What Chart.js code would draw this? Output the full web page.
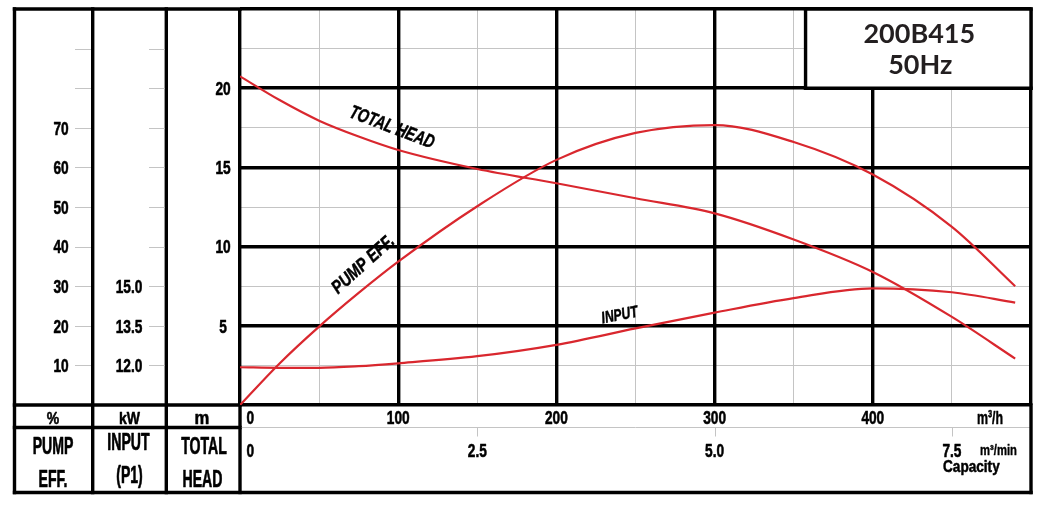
<!DOCTYPE html>
<html><head><meta charset="utf-8">
<script src="https://cdn.jsdelivr.net/npm/chart.js@4.4.1/dist/chart.umd.min.js"></script>
<style>html,body{margin:0;padding:0;background:#fff;overflow:hidden}canvas{display:block}</style>
</head><body>
<canvas id="c" width="1045" height="506"></canvas>
<script>
// ---- data ----
const flow      = [0, 25, 50, 75, 100, 150, 200, 250, 300, 350, 400, 450, 490];          // m3/h
const totalHead = [20.75, 19.25, 17.95, 16.95, 16.1, 14.9, 14.0, 13.05, 12.1, 10.45, 8.4, 5.56, 2.93]; // m
const pumpEff   = [0, 10.5, 19.8, 28.3, 36.2, 50.2, 61.9, 68.7, 70.7, 66.4, 58.2, 45, 30];  // %
const inputKW   = [11.93, 11.91, 11.91, 11.97, 12.08, 12.35, 12.78, 13.4, 14.0, 14.55, 14.92, 14.77, 14.38]; // kW
const flowTicks    = [0, 100, 200, 300, 400];          // m3/h
const flowMinTicks = [0, 2.5, 5.0, 7.5];               // m3/min
const effTicks  = [10, 20, 30, 40, 50, 60, 70];
const kwTicks   = ['12.0', '13.5', '15.0'];
const headTicks = [5, 10, 15, 20];
const sideTickLevels = [2.5, 5, 7.5, 10, 12.5, 15, 17.5, 20, 22.5];
const titleLines = ['200B415', '50Hz'];
const curveLabels = [ // text, flow, head
  ['TOTAL HEAD', 96, 17.5],
  ['PUMP EFF.', 78, 8.85],
  ['INPUT', 240, 5.65]
];

const RED = '#d9272e', GRID = '#c4c4c4', BW = 3.4;
const FAM = '"Liberation Sans", Arial, sans-serif';

function pts(ys){ return flow.map((q,i)=>({x:q, y:ys[i]})); }
function txt(c, s, x, y, o){
  c.save();
  c.translate(x, y);
  if (o.rot) c.rotate(o.rot*Math.PI/180);
  c.scale(o.sx || 1, 1);
  c.font = (o.italic ? 'italic ' : '') + 'bold ' + o.size + 'px ' + (o.family || FAM);
  c.fillStyle = o.color || '#000';
  c.textAlign = o.align || 'center';
  c.textBaseline = o.base || 'alphabetic';
  c.fillText(s, 0, 0);
  if (o.heavy) { c.strokeStyle = o.color || '#000'; c.lineWidth = o.heavy; c.lineJoin = 'round'; c.strokeText(s, 0, 0); }
  c.restore();
}
function ln(c, x1, y1, x2, y2, w, col){
  c.save(); c.strokeStyle = col; c.lineWidth = w; c.lineCap = 'square';
  c.beginPath(); c.moveTo(x1, y1); c.lineTo(x2, y2); c.stroke(); c.restore();
}

const frame = {
  id: 'frame',
  beforeDatasetsDraw(chart){
    const c = chart.ctx, a = chart.chartArea, s = chart.scales;
    const X = v => s.x.getPixelForValue(v), H = v => s.yHead.getPixelForValue(v);
    const E = v => s.yEff.getPixelForValue(v), K = v => s.yKW.getPixelForValue(v);
    // title box
    const bx = X(357.5), by = H(20);
    c.fillStyle = '#fff'; c.fillRect(bx, a.top, a.right - bx, by - a.top);
    ln(c, bx, a.top, bx, by, BW, '#000');
    ln(c, bx, a.top, a.right, a.top, BW, '#000');
    ln(c, a.right, a.top, a.right, by, BW, '#000');
    ln(c, bx, by, a.right, by, BW, '#000');
    txt(c, titleLines[0], (bx + a.right)/2 + 1, 43.3, {size: 27, family: 'Lato, "Open Sans", sans-serif', color: '#231f20'});
    txt(c, titleLines[1], (bx + a.right)/2 + 2, 74, {size: 27, family: 'Lato, "Open Sans", sans-serif', color: '#231f20'});

    // side table
    const L = 14.5, c1 = 92.7, c2 = 166.3, rowY = 427.5, bot = 492.5;
    ln(c, L, a.top, a.left, a.top, BW, '#000');
    ln(c, L, a.bottom, a.left, a.bottom, BW, '#000');
    ln(c, L, rowY, a.left, rowY, BW, '#000');
    ln(c, a.left, rowY, a.right, rowY, 1, GRID);
    ln(c, L, bot, a.right, bot, BW, '#000');
    [L, c1, c2].forEach(x => ln(c, x, a.top, x, bot, BW, '#000'));
    ln(c, a.left, a.bottom, a.left, bot, BW, '#000');
    ln(c, a.right, a.bottom, a.right, bot, BW, '#000');
    // small ticks in side columns
    sideTickLevels.forEach(v => {
      const y = Math.round(H(v)) + 0.5;
      c.save(); c.strokeStyle = GRID; c.lineWidth = 1; c.beginPath();
      c.moveTo(75, y); c.lineTo(c1 - 1.7, y);
      c.moveTo(149, y); c.lineTo(c2 - 1.7, y);
      c.stroke(); c.restore();
    });
    const tk = {size: 19, sx: 0.72, heavy: 0.6};
    effTicks.forEach(v => txt(c, String(v), 61, E(v) + 6.8, tk));
    kwTicks.forEach(v => txt(c, v, 129, K(+v) + 6.8, tk));
    headTicks.forEach(v => txt(c, String(v), 223, H(v) + 6.8, tk));

    // unit row
    txt(c, '%', 53, 424, {size: 16.5, sx: 0.85, heavy: 0.5});
    txt(c, 'kW', 129.5, 424, {size: 16.5, sx: 0.85, heavy: 0.5});
    txt(c, 'm', 202, 424, {size: 17.5, sx: 0.95, heavy: 0.5});
    // name row
    const nm = {size: 23.5, sx: 0.6, heavy: 0.7};
    txt(c, 'PUMP', 53, 454, nm);
    txt(c, 'EFF.', 53, 486.5, nm);
    txt(c, 'INPUT', 128.5, 450, nm);
    txt(c, '(P1)', 129.5, 482.5, nm);
    txt(c, 'TOTAL', 204, 454, nm);
    txt(c, 'HEAD', 202.5, 487, nm);

    // flow axes
    flowTicks.forEach(v => {
      if (v === 0) txt(c, '0', X(v) + 6.5, 424, Object.assign({}, tk, {align: 'left'}));
      else txt(c, String(v), X(v), 424, tk);
    });
    txt(c, 'm³/h', 990, 424, {size: 18.5, sx: 0.67, heavy: 0.5});
    flowMinTicks.forEach(v => {
      const x = X(v*60);
      if (v === 0) { txt(c, '0', x + 6.5, 456.5, Object.assign({}, tk, {align: 'left'})); return; }
      ln(c, Math.round(x) + 0.5, rowY, Math.round(x) + 0.5, 436, 1, GRID);
      txt(c, v.toFixed(1), x, 456.5, tk);
    });
    txt(c, 'm³/min', 980, 455, {size: 15, sx: 0.75, align: 'left', heavy: 0.4});
    txt(c, 'Capacity', 943, 471.7, {size: 16, sx: 0.85, align: 'left', heavy: 0.5});
  },
  afterDatasetsDraw(chart){
    const c = chart.ctx, s = chart.scales;
    const X = v => s.x.getPixelForValue(v), H = v => s.yHead.getPixelForValue(v);
    const rots = [21, -42, -11], sizes = [19, 18.5, 16.5], sxs = [0.74, 0.8, 0.74];
    curveLabels.forEach((l, i) => txt(c, l[0], X(l[1]), H(l[2]), {size: sizes[i], sx: sxs[i], rot: rots[i], italic: true, base: 'middle', heavy: 0.5}));
  }
};

const lineDs = (label, ys, axis) => ({
  label, data: pts(ys), yAxisID: axis, borderColor: RED, borderWidth: 2.2,
  pointRadius: 0, cubicInterpolationMode: 'monotone', fill: false
});
new Chart(document.getElementById('c'), {
  type: 'line',
  data: { datasets: [
    lineDs('TOTAL HEAD', totalHead, 'yHead'),
    lineDs('PUMP EFF.', pumpEff, 'yEff'),
    lineDs('INPUT', inputKW, 'yKW')
  ]},
  options: {
    responsive: false, devicePixelRatio: 1, animation: false,
    layout: { padding: { left: 240, right: 14, top: 9, bottom: 101 } },
    plugins: { legend: {display: false}, tooltip: {enabled: false} },
    scales: {
      x: { type: 'linear', min: 0, max: 500, position: 'bottom', ticks: {display: false, stepSize: 50},
           grid: {color: GRID, lineWidth: 1, drawTicks: false, z: -2}, border: {display: false} },
      xMajor: { type: 'linear', min: 0, max: 500, position: 'bottom', ticks: {display: false, stepSize: 100},
           grid: {color: '#000', lineWidth: BW, drawTicks: false, z: -1}, border: {display: false} },
      yHead: { type: 'linear', min: 0, max: 25, position: 'left', ticks: {display: false, stepSize: 2.5},
           grid: {color: GRID, lineWidth: 1, drawTicks: false, z: -2}, border: {display: false} },
      yMajor: { type: 'linear', min: 0, max: 25, position: 'left', ticks: {display: false, stepSize: 5},
           grid: {color: '#000', lineWidth: BW, drawTicks: false, z: -1}, border: {display: false} },
      yEff: { type: 'linear', min: 0, max: 100, display: false },
      yKW: { type: 'linear', min: 10.5, max: 25.5, display: false }
    }
  },
  plugins: [frame]
});
</script>
</body></html>
